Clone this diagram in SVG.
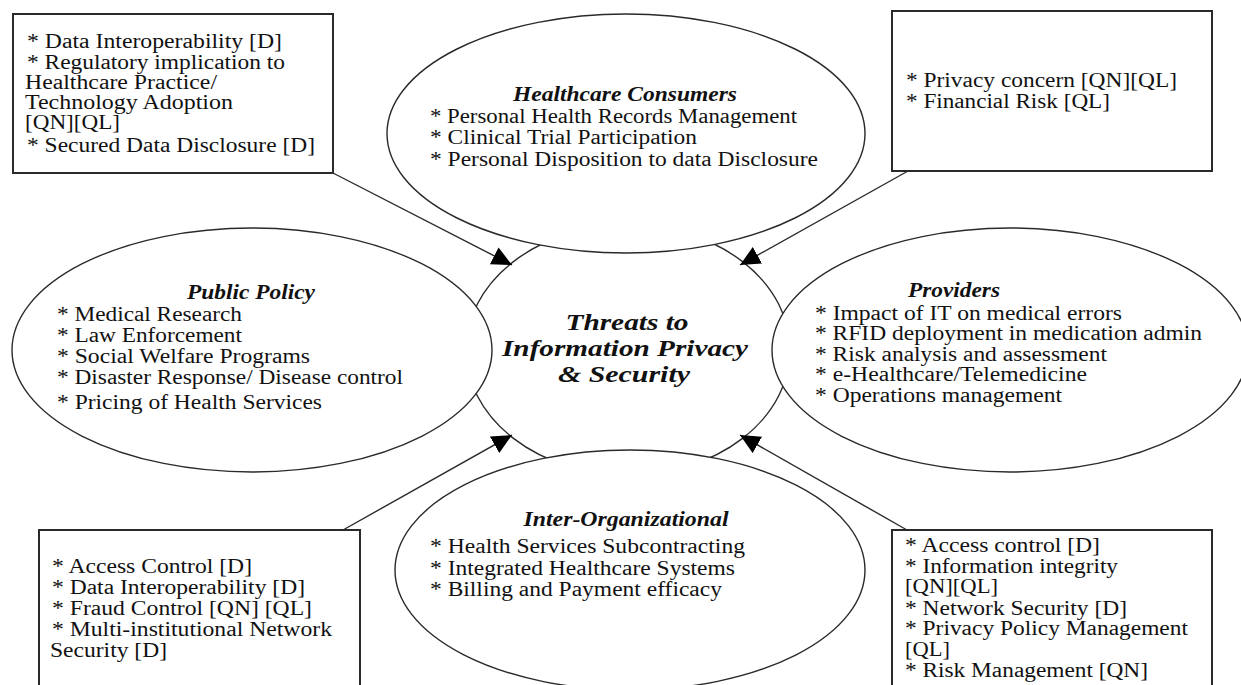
<svg xmlns="http://www.w3.org/2000/svg" width="1241" height="685" viewBox="0 0 1241 685">
<defs>
<style>
.shape{fill:#fff;stroke:#2a2a2a;stroke-width:1.4}
.box{fill:#fff;stroke:#2a2a2a;stroke-width:2}
.t{font-family:"Liberation Serif","Times New Roman",serif;font-size:20px;fill:#111}
.h{font-family:"Liberation Serif","Times New Roman",serif;font-size:20px;font-weight:bold;font-style:italic;fill:#111;text-anchor:middle}
.c{font-family:"Liberation Serif","Times New Roman",serif;font-size:24px;font-weight:bold;font-style:italic;fill:#111;text-anchor:middle}
.conn{fill:none;stroke:#2a2a2a;stroke-width:1.4}
</style>
<marker id="arrow" markerUnits="userSpaceOnUse" markerWidth="21" markerHeight="19" refX="20" refY="9.5" orient="auto" viewBox="0 0 21 19">
<path d="M0,0 L20,9.5 L0,19 z" fill="#000"/>
</marker>
</defs>
<rect width="1241" height="685" fill="#fff"/>

<g id="center">
<ellipse class="shape" cx="628" cy="350" rx="162" ry="125"/>
<text class="c" x="627" y="330" textLength="123" lengthAdjust="spacingAndGlyphs">Threats to</text>
<text class="c" x="625" y="356" textLength="246" lengthAdjust="spacingAndGlyphs">Information Privacy</text>
<text class="c" x="624" y="382" textLength="132" lengthAdjust="spacingAndGlyphs">&amp; Security</text>
</g>

<g id="healthcare-consumers">
<ellipse class="shape" cx="626" cy="133.5" rx="239" ry="119.5"/>
<text class="h" x="625" y="101" textLength="224" lengthAdjust="spacingAndGlyphs">Healthcare Consumers</text>
<text class="t" x="430" y="123" textLength="367" lengthAdjust="spacingAndGlyphs">* Personal Health Records Management</text>
<text class="t" x="430" y="144" textLength="267" lengthAdjust="spacingAndGlyphs">* Clinical Trial Participation</text>
<text class="t" x="430" y="166" textLength="388" lengthAdjust="spacingAndGlyphs">* Personal Disposition to data Disclosure</text>
</g>

<g id="public-policy">
<ellipse class="shape" cx="252" cy="350" rx="240" ry="122"/>
<text class="h" x="251" y="299" textLength="128" lengthAdjust="spacingAndGlyphs">Public Policy</text>
<text class="t" x="57" y="321" textLength="185" lengthAdjust="spacingAndGlyphs">* Medical Research</text>
<text class="t" x="57" y="342" textLength="185" lengthAdjust="spacingAndGlyphs">* Law Enforcement</text>
<text class="t" x="57" y="363" textLength="253" lengthAdjust="spacingAndGlyphs">* Social Welfare Programs</text>
<text class="t" x="57" y="384" textLength="346" lengthAdjust="spacingAndGlyphs">* Disaster Response/ Disease control</text>
<text class="t" x="57" y="409" textLength="265" lengthAdjust="spacingAndGlyphs">* Pricing of Health Services</text>
</g>

<g id="providers">
<ellipse class="shape" cx="1010" cy="350" rx="238" ry="122"/>
<text class="h" x="954" y="297" textLength="92" lengthAdjust="spacingAndGlyphs">Providers</text>
<text class="t" x="815" y="320" textLength="307" lengthAdjust="spacingAndGlyphs">* Impact of IT on medical errors</text>
<text class="t" x="815" y="340" textLength="387" lengthAdjust="spacingAndGlyphs">* RFID deployment in medication admin</text>
<text class="t" x="815" y="361" textLength="292" lengthAdjust="spacingAndGlyphs">* Risk analysis and assessment</text>
<text class="t" x="815" y="381" textLength="272" lengthAdjust="spacingAndGlyphs">* e-Healthcare/Telemedicine</text>
<text class="t" x="815" y="402" textLength="247" lengthAdjust="spacingAndGlyphs">* Operations management</text>
</g>

<g id="inter-organizational">
<ellipse class="shape" cx="630" cy="570" rx="235" ry="120"/>
<text class="h" x="626" y="526" textLength="205" lengthAdjust="spacingAndGlyphs">Inter-Organizational</text>
<text class="t" x="430" y="553" textLength="315" lengthAdjust="spacingAndGlyphs">* Health Services Subcontracting</text>
<text class="t" x="430" y="575" textLength="305" lengthAdjust="spacingAndGlyphs">* Integrated Healthcare Systems</text>
<text class="t" x="430" y="596" textLength="292" lengthAdjust="spacingAndGlyphs">* Billing and Payment efficacy</text>
</g>

<g id="box-top-left">
<rect class="box" x="13" y="14" width="320" height="159"/>
<text class="t" x="27" y="48" textLength="255" lengthAdjust="spacingAndGlyphs">* Data Interoperability [D]</text>
<text class="t" x="27" y="69" textLength="258" lengthAdjust="spacingAndGlyphs">* Regulatory implication to</text>
<text class="t" x="25" y="89" textLength="192" lengthAdjust="spacingAndGlyphs">Healthcare Practice/</text>
<text class="t" x="25" y="109" textLength="208" lengthAdjust="spacingAndGlyphs">Technology Adoption</text>
<text class="t" x="25" y="129" textLength="95" lengthAdjust="spacingAndGlyphs">[QN][QL]</text>
<text class="t" x="27" y="152" textLength="288" lengthAdjust="spacingAndGlyphs">* Secured Data Disclosure [D]</text>
</g>

<g id="box-top-right">
<rect class="box" x="892" y="11" width="320" height="160"/>
<text class="t" x="906" y="87" textLength="271" lengthAdjust="spacingAndGlyphs">* Privacy concern [QN][QL]</text>
<text class="t" x="906" y="108" textLength="204" lengthAdjust="spacingAndGlyphs">* Financial Risk [QL]</text>
</g>

<g id="box-bottom-left">
<rect class="box" x="39" y="530" width="321" height="175"/>
<text class="t" x="52" y="573" textLength="200" lengthAdjust="spacingAndGlyphs">* Access Control [D]</text>
<text class="t" x="52" y="594" textLength="253" lengthAdjust="spacingAndGlyphs">* Data Interoperability [D]</text>
<text class="t" x="52" y="615" textLength="260" lengthAdjust="spacingAndGlyphs">* Fraud Control [QN] [QL]</text>
<text class="t" x="52" y="636" textLength="280" lengthAdjust="spacingAndGlyphs">* Multi-institutional Network</text>
<text class="t" x="50" y="657" textLength="117" lengthAdjust="spacingAndGlyphs">Security [D]</text>
</g>

<g id="box-bottom-right">
<rect class="box" x="892" y="530" width="320" height="175"/>
<text class="t" x="905" y="552" textLength="195" lengthAdjust="spacingAndGlyphs">* Access control [D]</text>
<text class="t" x="905" y="573" textLength="213" lengthAdjust="spacingAndGlyphs">* Information integrity</text>
<text class="t" x="905" y="593" textLength="93" lengthAdjust="spacingAndGlyphs">[QN][QL]</text>
<text class="t" x="905" y="615" textLength="222" lengthAdjust="spacingAndGlyphs">* Network Security [D]</text>
<text class="t" x="905" y="635" textLength="283" lengthAdjust="spacingAndGlyphs">* Privacy Policy Management</text>
<text class="t" x="905" y="656" textLength="45" lengthAdjust="spacingAndGlyphs">[QL]</text>
<text class="t" x="905" y="677" textLength="243" lengthAdjust="spacingAndGlyphs">* Risk Management [QN]</text>
</g>

<g id="connectors">
<line class="conn" x1="333" y1="173" x2="512" y2="265" marker-end="url(#arrow)"/>
<line class="conn" x1="908" y1="171" x2="740" y2="265" marker-end="url(#arrow)"/>
<line class="conn" x1="343" y1="530" x2="512" y2="435" marker-end="url(#arrow)"/>
<line class="conn" x1="907" y1="530" x2="740" y2="435" marker-end="url(#arrow)"/>
</g>
</svg>
